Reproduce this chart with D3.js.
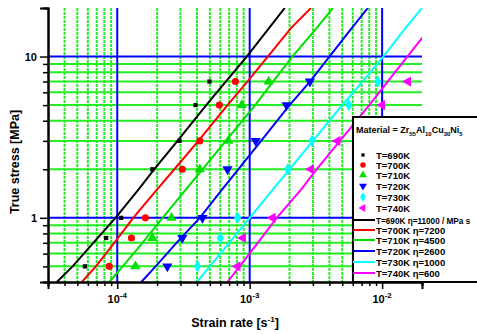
<!DOCTYPE html>
<html>
<head>
<meta charset="utf-8">
<script src="https://cdn.jsdelivr.net/npm/d3@7"></script>
<style>
  body { margin: 0; background: #fff; }
  svg { display: block; font-family: "Liberation Sans", Arial, sans-serif; font-weight: bold; }
</style>
</head>
<body>
<div id="chart"></div>
<script>
// experimental points, stress levels in MPa
const temps = ["T=690K", "T=700K", "T=710K", "T=720K", "T=730K", "T=740K"];
const colors = ["#000000", "#ff0000", "#00e000", "#0000ff", "#00ffff", "#ff00ff"];
const stress = [0.5, 0.75, 1, 2, 3, 5, 7];
const rate690 = [5.7e-5, 8.25e-5, 1.07e-4, 1.84e-4, 2.95e-4, 3.9e-4, 4.97e-4];
const rate700 = [8.7e-5, 1.28e-4, 1.63e-4, 3.1e-4, 4.2e-4, 5.9e-4, 7.8e-4];
const rate710 = [1.37e-4, 1.84e-4, 2.57e-4, 4.2e-4, 6.9e-4, 8.7e-4, 1.39e-3];
const rate720 = [2.39e-4, 3.1e-4, 4.4e-4, 6.8e-4, 1.11e-3, 1.9e-3, 2.85e-3];
const rate730 = [4.04e-4, 6.0e-4, 8.1e-4, 1.94e-3, 2.95e-3, 5.6e-3, 9.3e-3];
const rate740 = [8.1e-4, 8.9e-4, 1.49e-3, 2.9e-3, 4.6e-3, 1.0e-2, 1.57e-2];

// fitted curves
const lineStress = [0.4, 0.5, 0.7, 1, 1.5, 2, 3, 5, 7, 10, 15, 20];
const line690 = [3.5e-5, 4.6e-5, 6.6e-5, 9.7e-5, 1.45e-4, 1.9e-4, 2.85e-4, 4.7e-4, 6.6e-4, 9.5e-4, 1.4e-3, 1.84e-3];
const line700 = [5.4e-5, 6.9e-5, 9.5e-5, 1.32e-4, 2.0e-4, 2.7e-4, 4.1e-4, 6.8e-4, 9.6e-4, 1.37e-3, 2.05e-3, 2.9e-3];
const line710 = [8.7e-5, 1.1e-4, 1.55e-4, 2.2e-4, 3.3e-4, 4.4e-4, 6.6e-4, 1.1e-3, 1.5e-3, 2.1e-3, 3.2e-3, 4.25e-3];
const line720 = [1.52e-4, 1.95e-4, 2.8e-4, 4.2e-4, 6.2e-4, 8.2e-4, 1.22e-3, 2.0e-3, 2.85e-3, 4.0e-3, 5.9e-3, 7.8e-3];
const line730 = [4.0e-4, 5.0e-4, 7.0e-4, 1.0e-3, 1.5e-3, 2.0e-3, 3.0e-3, 5.0e-3, 7.1e-3, 1.02e-2, 1.5e-2, 2.0e-2];
const line740 = [6.8e-4, 8.4e-4, 1.15e-3, 1.6e-3, 2.45e-3, 3.2e-3, 4.8e-3, 8.0e-3, 1.1e-2, 1.55e-2, 2.3e-2, 3.1e-2];
const viscosity = ["11000 / MPa s", "7200", "4500", "2600", "1000", "600"];

// axis ticks
const xMajor = [1e-4, 1e-3, 1e-2];
const xMajorExp = ["-4", "-3", "-2"];
const xMinor = [3e-5, 4e-5, 5e-5, 6e-5, 7e-5, 8e-5, 9e-5, 2e-4, 3e-4, 4e-4, 5e-4, 6e-4, 7e-4, 8e-4, 9e-4,
  2e-3, 3e-3, 4e-3, 5e-3, 6e-3, 7e-3, 8e-3, 9e-3, 2e-2];
const yMajor = [1, 10];
const yMajorLabels = ["1", "10"];
const yMinor = [0.4, 0.5, 0.6, 0.7, 0.8, 0.9, 2, 3, 4, 5, 6, 7, 8, 9, 20];

const pointRates = [rate690, rate700, rate710, rate720, rate730, rate740];
const lineRates = [line690, line700, line710, line720, line730, line740];
const symbols = [d3.symbolSquare, d3.symbolCircle, d3.symbolTriangle, d3.symbolTriangle, d3.symbolDiamond, d3.symbolTriangle];
const symbolRot = [0, 0, 0, 180, 0, -90];
const symbolSize = [18, 40, 45, 45, 45, 45];

const W = 477, H = 334;
const mLeft = 48, mRight = 422, mTop = 8, mBottom = 282;

const svg = d3.select("#chart").append("svg").attr("width", W).attr("height", H);

const x = d3.scaleLog().domain([3e-5, 2e-2]).range([mLeft, mRight]);
const y = d3.scaleLog().domain([0.4, 20]).range([mBottom, mTop]);

// grid
const grid = svg.append("g");
grid.selectAll(".vg").data(xMinor.filter(d => d > 3e-5 && d < 2e-2)).enter().append("line")
  .attr("x1", d => x(d)).attr("x2", d => x(d)).attr("y1", mTop).attr("y2", mBottom)
  .attr("stroke", "#22ee22").attr("stroke-width", 2).attr("stroke-dasharray", "3,1");
grid.selectAll(".hg").data(yMinor.filter(d => d > 0.4 && d < 20)).enter().append("line")
  .attr("x1", mLeft).attr("x2", mRight).attr("y1", d => y(d)).attr("y2", d => y(d))
  .attr("stroke", "#22ee22").attr("stroke-width", 2);
grid.selectAll(".vb").data(xMajor).enter().append("line")
  .attr("x1", d => x(d)).attr("x2", d => x(d)).attr("y1", mTop).attr("y2", mBottom)
  .attr("stroke", "#0000ff").attr("stroke-width", 2);
grid.selectAll(".hb").data(yMajor).enter().append("line")
  .attr("x1", mLeft).attr("x2", mRight).attr("y1", d => y(d)).attr("y2", d => y(d))
  .attr("stroke", "#0000ff").attr("stroke-width", 2);

svg.append("clipPath").attr("id", "clip").append("rect")
  .attr("x", mLeft).attr("y", mTop).attr("width", mRight - mLeft).attr("height", mBottom - mTop);

// curves
const line = d3.line().x(d => x(d[0])).y(d => y(d[1]));
svg.append("g").attr("clip-path", "url(#clip)")
  .selectAll("path").data(lineRates).enter().append("path")
  .attr("d", r => line(r.map((v, i) => [v, lineStress[i]])))
  .attr("fill", "none").attr("stroke", (_, i) => colors[i]).attr("stroke-width", 2);

// points
pointRates.forEach((rates, k) => {
  svg.append("g").selectAll("path").data(rates).enter().append("path")
    .attr("transform", (d, i) => `translate(${x(d)},${y(stress[i])}) rotate(${symbolRot[k]})`)
    .attr("d", d3.symbol().type(symbols[k]).size(symbolSize[k]))
    .attr("fill", colors[k]);
});

// axes
const fs = 11;
const xAxisMinor = d3.axisBottom(x).tickValues(xMinor).tickSize(4).tickFormat("");
const xAxisMajor = d3.axisBottom(x).tickValues(xMajor).tickSize(7).tickFormat("");
const gx = svg.append("g").attr("transform", `translate(0,${mBottom})`);
gx.call(xAxisMinor);
gx.append("g").call(xAxisMajor);
gx.selectAll("path.domain").attr("stroke-width", 2);
gx.selectAll(".tick line").attr("stroke-width", 1.5);

const xl = svg.append("g").selectAll("text").data(xMajor).enter().append("text")
  .attr("x", d => x(d)).attr("y", 303).attr("text-anchor", "middle").attr("font-size", fs);
xl.append("tspan").text("10");
xl.append("tspan").attr("dy", -5).attr("font-size", 8).text((_, i) => xMajorExp[i]);

const yAxisMinor = d3.axisLeft(y).tickValues(yMinor).tickSize(5).tickFormat("");
const yAxisMajor = d3.axisLeft(y).tickValues(yMajor).tickSize(8).tickFormat((_, i) => yMajorLabels[i]);
const gy = svg.append("g").attr("transform", `translate(${mLeft},0)`);
gy.call(yAxisMinor);
gy.append("g").call(yAxisMajor);
gy.selectAll("path.domain").attr("stroke-width", 2);
gy.selectAll(".tick line").attr("stroke-width", 1.5);
gy.selectAll("text").attr("font-size", fs).attr("font-family", "Liberation Sans").attr("font-weight", "bold");

svg.append("text").attr("transform", "translate(19,162) rotate(-90)")
  .attr("text-anchor", "middle").attr("font-size", 12.5).text("True stress  [MPa]");

const xt = svg.append("text").attr("x", 235).attr("y", 327).attr("text-anchor", "middle").attr("font-size", 12.5);
xt.append("tspan").text("Strain rate [s");
xt.append("tspan").attr("dy", -5).attr("font-size", 8).text("-1");
xt.append("tspan").attr("dy", 5).text("]");

// legend
const lg = svg.append("g");
lg.append("rect").attr("x", 353).attr("y", 117).attr("width", 140).attr("height", 165)
  .attr("fill", "#fff").attr("stroke", "#000").attr("stroke-width", 2);

const mat = lg.append("text").attr("x", 356).attr("y", 133).attr("font-size", 9);
[["Material = Zr", 0], ["55", 1], ["Al", 0], ["10", 1], ["Cu", 0], ["30", 1], ["Ni", 0], ["5", 1]].forEach(([t, sub], i, arr) => {
  const prev = i > 0 ? arr[i - 1][1] : 0;
  mat.append("tspan").attr("dy", sub ? 3 : (prev ? -3 : 0)).attr("font-size", sub ? 6 : 9).text(t);
});

const markY = [155, 165, 175, 186, 197, 208];
temps.forEach((t, k) => {
  lg.append("path")
    .attr("transform", `translate(363,${markY[k]}) rotate(${symbolRot[k]})`)
    .attr("d", d3.symbol().type(symbols[k]).size(symbolSize[k] * 0.6))
    .attr("fill", colors[k]);
  lg.append("text").attr("x", 376).attr("y", markY[k] + 3.5).attr("font-size", 9.5).text(t);
});

const lineY = [220, 230, 240, 251, 262, 273];
temps.forEach((t, k) => {
  lg.append("line").attr("x1", 353).attr("x2", 375).attr("y1", lineY[k]).attr("y2", lineY[k])
    .attr("stroke", colors[k]).attr("stroke-width", 2);
  lg.append("text").attr("x", 376).attr("y", lineY[k] + 3.5)
    .attr("font-size", k === 0 ? 8.2 : 9.5)
    .text(`${t} η=${viscosity[k]}`);
});
</script>
</body>
</html>
